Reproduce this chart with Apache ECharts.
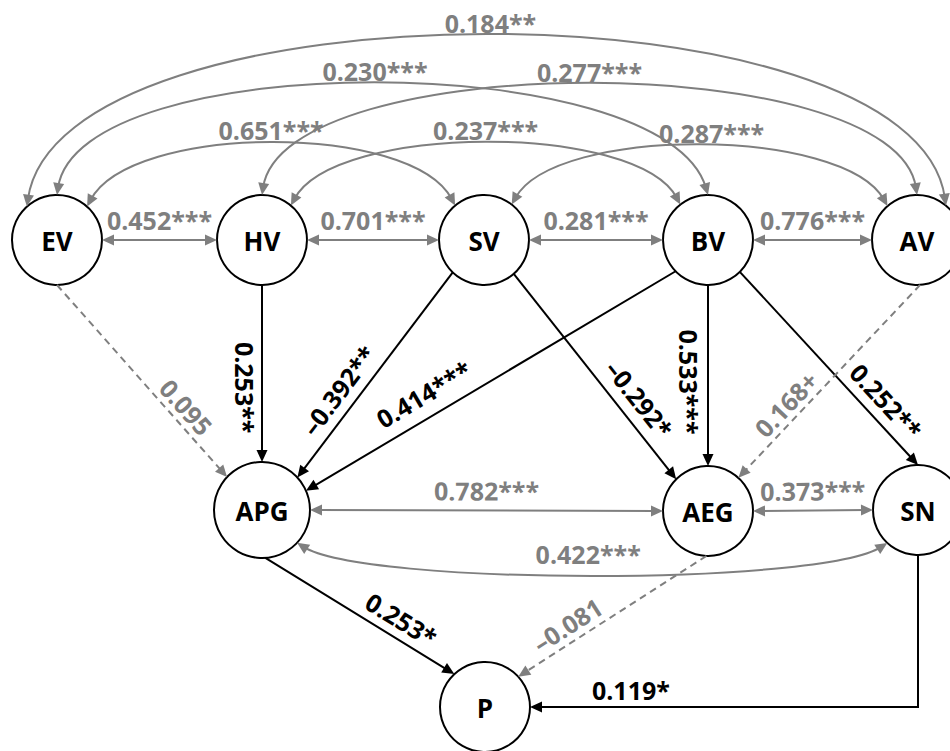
<!DOCTYPE html>
<html><head><meta charset="utf-8">
<script src="https://cdn.jsdelivr.net/npm/echarts@6/dist/echarts.min.js"></script>
<style>html,body{margin:0;padding:0;background:#fff}#c{width:950px;height:751px}</style>
</head><body><div id="c"></div>
<script>
// ---------------- data ----------------
const nodeNames = ['EV','HV','SV','BV','AV','APG','AEG','SN','P'];
const nodeX = [0.57, 2.62, 4.84, 7.08, 9.17, 2.62, 7.08, 9.18, 4.85];
const nodeY = [2.40, 2.40, 2.40, 2.40, 2.40, 5.10, 5.11, 5.10, 7.07];

// covariances (double-headed, grey)
const covFrom  = ['EV','HV','SV','BV','EV','EV','EV','HV','HV','SV','APG','AEG','APG'];
const covTo    = ['HV','SV','BV','AV','SV','BV','AV','BV','AV','AV','AEG','SN','SN'];
const covLabel = ['0.452***','0.701***','0.281***','0.776***','0.651***','0.230***','0.184**','0.237***','0.277***','0.287***','0.782***','0.373***','0.422***'];

// directed paths
const pathFrom  = ['HV','SV','BV','SV','BV','BV','EV','AV','APG','AEG','SN'];
const pathTo    = ['APG','APG','APG','AEG','AEG','SN','APG','AEG','P','P','P'];
const pathLabel = ['0.253**','\u20130.392**','0.414***','\u20130.292*','0.533***','0.252**','0.095','0.168+','0.253*','\u20130.081','0.119*'];
const pathSig   = [true,true,true,true,true,true,false,false,true,false,true];

// ---------------- styles / routing ----------------
const GREY = '#7f7f7f', BLACK = '#000000';
const FONT = '"Open Sans"';
const R = {APG:48};           // node radius override (px)
const RDEF = 45;
const ROUTE = {
  'EV-HV':  {a0:0, a1:180},
  'HV-SV':  {a0:0, a1:180},
  'SV-BV':  {a0:0, a1:180},
  'BV-AV':  {a0:0, a1:180},
  'APG-AEG':{a0:0, a1:180},
  'AEG-SN': {a0:0, a1:180},
  'EV-SV':  {a0:48, a1:130, h:77, s0:40, s1:40},
  'EV-BV':  {a0:90, a1:90, h:141, s0:20, s1:40},
  'EV-AV':  {a0:132, a1:50, h:220, s0:30, s1:30, dx:4},
  'HV-BV':  {a0:50, a1:128, h:76, s0:40, s1:40},
  'HV-AV':  {a0:90, a1:90, h:140, s0:20, s1:20},
  'SV-AV':  {a0:52, a1:131, h:73, s0:40, s1:40, dx:12},
  'APG-SN': {a0:-43, a1:-133, h:-39, s0:60, s1:60, dx:-4},
  'HV-APG': {a0:-90, a1:90, t:0.58, off:-17},
  'SV-APG': {a0:-134, a1:42.5, t:0.634, off:20},
  'BV-APG': {a0:-136, a1:23.7, t:0.65, off:23},
  'SV-AEG': {a0:-48.6, a1:135, t:0.672, off:21},
  'BV-AEG': {a0:-90, a1:90, t:0.536, off:-19},
  'BV-SN':  {a0:-45, a1:90, t:0.739, off:20},
  'EV-APG': {a0:-90, a1:136.7, t:0.69, off:16},
  'AV-AEG': {a0:-86, a1:47.5, t:0.675, off:16},
  'APG-P':  {a0:-86, a1:133, t:0.668, off:19},
  'AEG-P':  {a0:-92, a1:42.4, t:0.69, off:17},
  'SN-P':   {a0:-90, a1:0, elbow:true, t:0.74, off:17}
};

// ---------------- build tables ----------------
const idx = n => nodeNames.indexOf(n);
const edges = [];
covFrom.forEach((f,i)=>edges.push({from:f,to:covTo[i],label:covLabel[i],kind:'cov'}));
pathFrom.forEach((f,i)=>edges.push({from:f,to:pathTo[i],label:pathLabel[i],kind:pathSig[i]?'sig':'ns'}));
const edgeData = edges.map((e,i)=>[nodeX[idx(e.from)],nodeY[idx(e.from)],nodeX[idx(e.to)],nodeY[idx(e.to)],i]);
const nodeData = nodeNames.map((n,i)=>[nodeX[i],nodeY[i],i]);

function anchor(c, r, deg){ const a=deg*Math.PI/180; return [c[0]+r*Math.cos(a), c[1]-r*Math.sin(a)]; }
function unit(a,b){ let dx=b[0]-a[0], dy=b[1]-a[1]; const l=Math.hypot(dx,dy)||1; return [dx/l,dy/l]; }
const AL=12, AW=5.5;
function arrow(tip, from, color){
  const d=unit(from,tip);
  const bx=tip[0]-d[0]*AL, by=tip[1]-d[1]*AL;
  return {type:'polygon', shape:{points:[[tip[0],tip[1]],[bx-d[1]*AW,by+d[0]*AW],[bx+d[1]*AW,by-d[0]*AW]]}, style:{fill:color, stroke:null}};
}
function textEl(x,y,txt,color,rot){
  return {type:'text', x:x, y:y, rotation:rot||0, z2:10,
    style:{text:txt, fill:color, fontFamily:FONT, fontWeight:'bold', fontSize:25, align:'center', verticalAlign:'middle'}};
}

function renderEdge(params, api){
  const e = edges[params.dataIndex];
  const rt = ROUTE[e.from+'-'+e.to];
  const c0 = api.coord([api.value(0),api.value(1)]);
  const c1 = api.coord([api.value(2),api.value(3)]);
  const p0 = anchor(c0, R[e.from]||RDEF, rt.a0);
  const p3 = anchor(c1, R[e.to]||RDEF, rt.a1);
  const color = e.kind==='sig' ? BLACK : GREY;
  const lineStyle = {stroke:color, lineWidth:2, fill:null};
  if (e.kind==='ns') lineStyle.lineDash=[7,5];
  const both = e.kind==='cov';
  const ch = [];
  const sh = AL*0.6;
  if (rt.h !== undefined) {
    const sg = p3[0]>=p0[0]?1:-1;
    const p1=[p0[0]+rt.s0*sg, p0[1]-rt.h];
    const p2=[p3[0]-rt.s1*sg, p3[1]-rt.h];
    const u0=unit(p0,p1), u3=unit(p3,p2);
    const q0=[p0[0]+u0[0]*sh,p0[1]+u0[1]*sh], q1=[p1[0]+u0[0]*sh,p1[1]+u0[1]*sh];
    const q3=[p3[0]+u3[0]*sh,p3[1]+u3[1]*sh], q2=[p2[0]+u3[0]*sh,p2[1]+u3[1]*sh];
    ch.push({type:'bezierCurve', shape:{x1:q0[0],y1:q0[1],cpx1:q1[0],cpy1:q1[1],cpx2:q2[0],cpy2:q2[1],x2:q3[0],y2:q3[1]}, style:lineStyle});
    ch.push(arrow(p0,p1,color));
    ch.push(arrow(p3,p2,color));
    const mx=(p0[0]+3*p1[0]+3*p2[0]+p3[0])/8, my=(p0[1]+3*p1[1]+3*p2[1]+p3[1])/8;
    ch.push(textEl(mx+(rt.dx||0), my-18, e.label, color, 0));
  } else if (rt.elbow) {
    const corner=[p0[0],p3[1]];
    const u=unit(p3,corner);
    const q3=[p3[0]+u[0]*sh,p3[1]+u[1]*sh];
    ch.push({type:'polyline', shape:{points:[p0,corner,q3]}, style:lineStyle});
    ch.push(arrow(p3,corner,color));
    const lx=corner[0]+(p3[0]-corner[0])*rt.t, ly=corner[1]-rt.off;
    ch.push(textEl(lx, ly, e.label, color, 0));
  } else {
    const u=unit(p0,p3);
    const q0 = both?[p0[0]+u[0]*sh,p0[1]+u[1]*sh]:p0;
    const q3=[p3[0]-u[0]*sh,p3[1]-u[1]*sh];
    ch.push({type:'line', shape:{x1:q0[0],y1:q0[1],x2:q3[0],y2:q3[1]}, style:lineStyle});
    ch.push(arrow(p3,p0,color));
    if (both) ch.push(arrow(p0,p3,color));
    const t = rt.t!==undefined?rt.t:0.5, off = rt.off!==undefined?rt.off:20;
    let r = u.slice();
    if (Math.abs(u[0])<0.05) { r = u[1]<0 ? [-u[0],-u[1]] : u.slice(); }
    else if (u[0]<0) r=[-u[0],-u[1]];
    const up=[r[1],-r[0]];
    const px=p0[0]+(p3[0]-p0[0])*t+up[0]*off, py=p0[1]+(p3[1]-p0[1])*t+up[1]*off;
    ch.push(textEl(px, py, e.label, color, Math.atan2(-r[1], r[0])));
  }
  return {type:'group', children:ch};
}

function renderNode(params, api){
  const i = api.value(2);
  const c = api.coord([api.value(0),api.value(1)]);
  const r = R[nodeNames[i]]||RDEF;
  return {type:'group', children:[
    {type:'circle', shape:{cx:c[0],cy:c[1],r:r}, style:{fill:'#ffffff',stroke:BLACK,lineWidth:2}},
    {type:'text', x:c[0], y:c[1]+1, style:{text:nodeNames[i], fill:BLACK, fontFamily:FONT, fontWeight:'bold', fontSize:26, align:'center', verticalAlign:'middle'}}
  ]};
}

const chart = echarts.init(document.getElementById('c'), null, {renderer:'svg'});
chart.setOption({
  animation:false,
  backgroundColor:'#ffffff',
  grid:{left:0,right:0,top:0,bottom:0},
  xAxis:{type:'value', min:0, max:9.5, show:false},
  yAxis:{type:'value', min:0, max:7.51, inverse:true, show:false},
  series:[
    {type:'custom', coordinateSystem:'cartesian2d', renderItem:renderNode, data:nodeData, z:1, clip:false},
    {type:'custom', coordinateSystem:'cartesian2d', renderItem:renderEdge, data:edgeData, z:2, clip:false}
  ]
});
</script>
</body></html>
